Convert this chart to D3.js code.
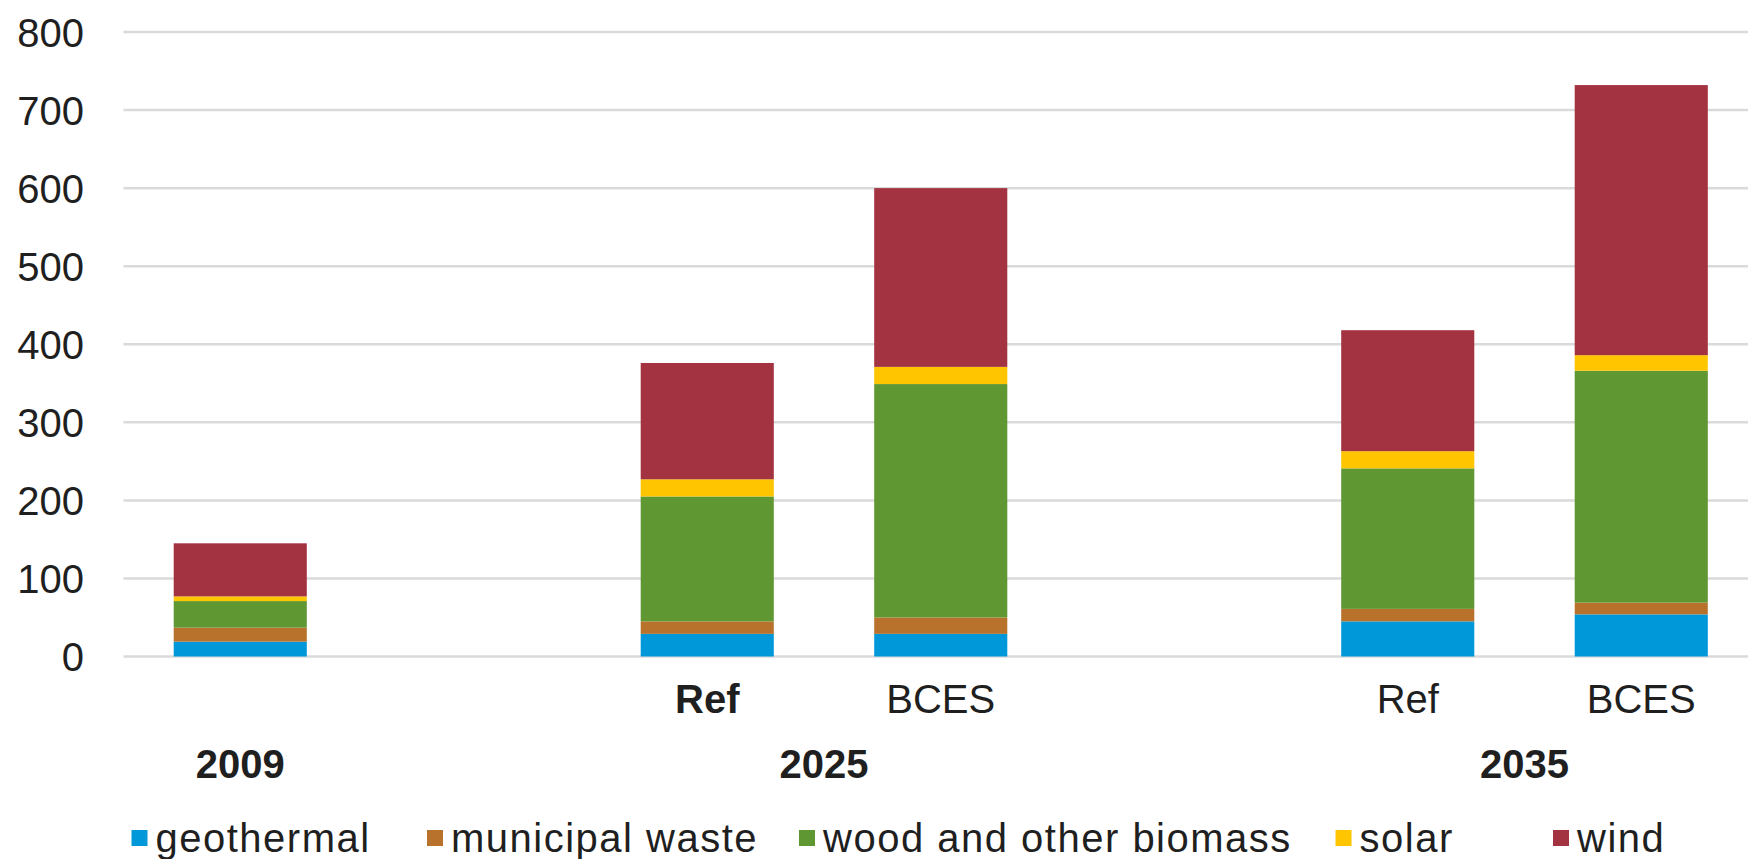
<!DOCTYPE html>
<html>
<head>
<meta charset="utf-8">
<script src="https://cdn.jsdelivr.net/npm/d3@7"></script>
<style>
  html, body { margin: 0; padding: 0; background: #fff; }
  svg { display: block; }
  text { font-family: Arial, "Liberation Sans", sans-serif; fill: #1f1f1f; }
</style>
</head>
<body>
<svg id="chart" width="1748" height="859"></svg>
<script>
// Renewable generation by source, stacked per year / scenario
const barYears     = ["2009", "2025", "2025", "2035", "2035"];
const barScenarios = ["", "Ref", "BCES", "Ref", "BCES"];

const geothermal     = [19, 29, 29, 45, 54];
const municipalWaste = [18, 16, 21, 16, 15];
const biomass        = [34, 160, 299, 180, 297];
const solar          = [6, 22, 22, 22, 20];
const wind           = [68, 149, 229, 155, 346];

const seriesNames  = ["geothermal", "municipal waste", "wood and other biomass", "solar", "wind"];
const seriesColors = ["#0098d8", "#b9722c", "#5f9733", "#ffc600", "#a33341"];
const yTicks = [0, 100, 200, 300, 400, 500, 600, 700, 800];

// Table for d3.stack
const rows = barYears.map((yr, i) => ({
  key: yr + " " + barScenarios[i],
  year: yr,
  scenario: barScenarios[i],
  "geothermal": geothermal[i],
  "municipal waste": municipalWaste[i],
  "wood and other biomass": biomass[i],
  "solar": solar[i],
  "wind": wind[i]
}));

// Slots along the x axis, with an empty slot between year groups
const slots = [];
barYears.forEach((yr, i) => {
  if (i > 0 && barYears[i - 1] !== yr) slots.push("gap-" + i);
  slots.push(rows[i].key);
});

const svg = d3.select("#chart");
const plotLeft = 123.5, plotRight = 1758, plotTop = 32, plotBottom = 656.5;

const x = d3.scaleBand()
  .domain(slots)
  .range([plotLeft, plotRight])
  .paddingInner(0.43)
  .paddingOuter(0.215);

const y = d3.scaleLinear()
  .domain([0, 800])
  .range([plotBottom, plotTop]);

// Horizontal gridlines
svg.append("g")
  .selectAll("line")
  .data(yTicks)
  .join("line")
  .attr("x1", plotLeft)
  .attr("x2", 1748)
  .attr("y1", d => y(d))
  .attr("y2", d => y(d))
  .attr("stroke", "#dadada")
  .attr("stroke-width", 2.5);

// Y axis labels
const yAxis = d3.axisLeft(y).tickValues(yTicks).tickSize(0).tickPadding(0);
const gy = svg.append("g")
  .attr("transform", `translate(84,0)`)
  .call(yAxis);
gy.select(".domain").remove();
gy.selectAll("text")
  .attr("font-size", 40)
  .attr("font-family", "Arial, 'Liberation Sans', sans-serif")
  .attr("fill", "#1f1f1f")
  .attr("dy", "0.36em");

// Stacked bars
const stack = d3.stack().keys(seriesNames);
const layers = stack(rows);
const color = d3.scaleOrdinal().domain(seriesNames).range(seriesColors);

svg.append("g")
  .selectAll("g")
  .data(layers)
  .join("g")
  .attr("fill", d => color(d.key))
  .selectAll("rect")
  .data(d => d)
  .join("rect")
  .attr("x", d => x(d.data.key))
  .attr("width", x.bandwidth())
  .attr("y", d => y(d[1]))
  .attr("height", d => y(d[0]) - y(d[1]));

// Scenario labels under each bar
svg.append("g")
  .selectAll("text")
  .data(rows.filter(r => r.scenario))
  .join("text")
  .attr("x", d => x(d.key) + x.bandwidth() / 2)
  .attr("y", 713)
  .attr("text-anchor", "middle")
  .attr("font-size", 40)
  .attr("font-weight", (d, i) => i === 0 ? "bold" : "normal")
  .text(d => d.scenario);

// Year labels centred under each group
const years = Array.from(new Set(barYears));
svg.append("g")
  .selectAll("text")
  .data(years)
  .join("text")
  .attr("x", yr => {
    const keys = rows.filter(r => r.year === yr).map(r => r.key);
    const x0 = d3.min(keys, k => x(k));
    const x1 = d3.max(keys, k => x(k) + x.bandwidth());
    return (x0 + x1) / 2;
  })
  .attr("y", 778)
  .attr("text-anchor", "middle")
  .attr("font-size", 40)
  .attr("font-weight", "bold")
  .text(yr => yr);

// Legend
const legendX = [131.5, 427, 799, 1335.5, 1553];
const legend = svg.append("g")
  .selectAll("g")
  .data(seriesNames)
  .join("g")
  .attr("transform", (d, i) => `translate(${legendX[i]},0)`);
legend.append("rect")
  .attr("x", 0)
  .attr("y", 830)
  .attr("width", 16)
  .attr("height", 16)
  .attr("fill", d => color(d));
legend.append("text")
  .attr("x", 24)
  .attr("y", 852)
  .attr("font-size", 40)
  .attr("letter-spacing", 1.5)
  .text(d => d);
</script>
</body>
</html>
